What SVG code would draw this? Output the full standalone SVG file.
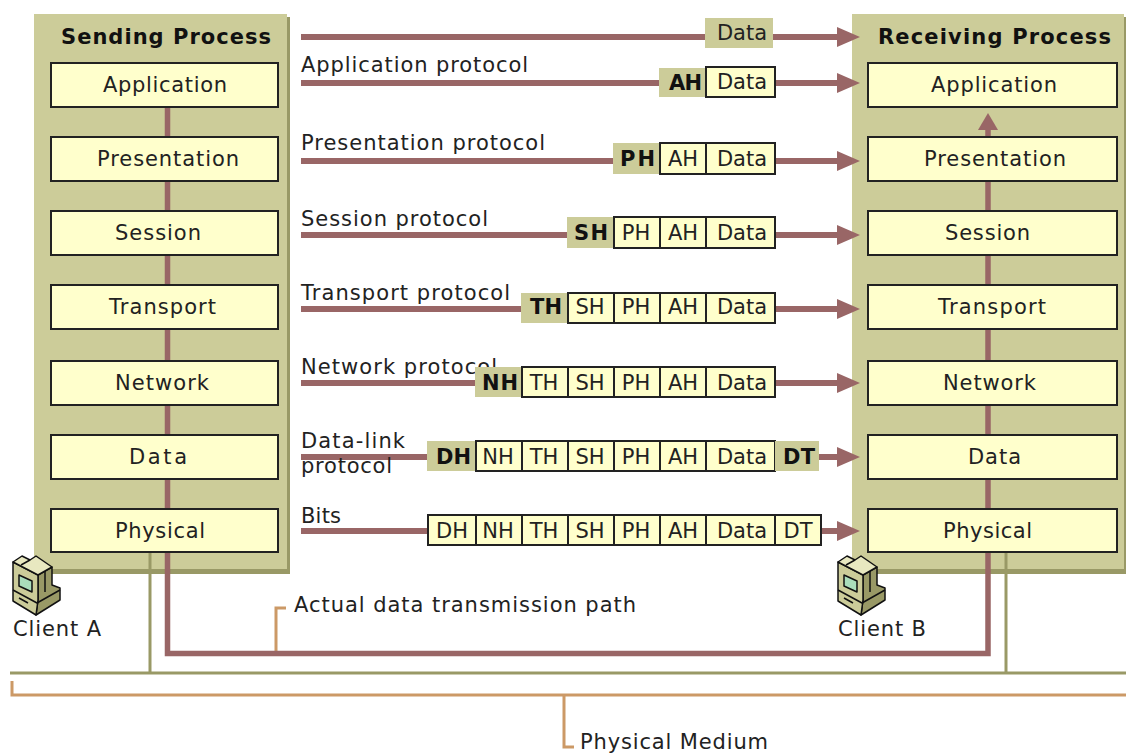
<svg xmlns="http://www.w3.org/2000/svg" width="1126" height="754" viewBox="0 0 1126 754">
<style>
text{font-family:"DejaVu Sans","Liberation Sans",sans-serif;font-size:21px;fill:#222}
.h{font-weight:700;fill:#111}
.b{font-weight:700;fill:#111}
.m{text-anchor:middle}
.panel{fill:#cccc99}
.sh{fill:#999966}
.box{fill:#ffffcc;stroke:#222;stroke-width:2}
.hd{fill:#cccc99}
.flow{fill:none;stroke:#996666;stroke-width:6}
.path{fill:none;stroke:#996666;stroke-width:5.5}
.ol{fill:none;stroke:#999966;stroke-width:3}
.or{fill:none;stroke:#cc9966;stroke-width:3}
.ic{stroke:#111;stroke-width:1.5;stroke-linejoin:round}
</style>
<defs>
<marker id="ah" markerUnits="userSpaceOnUse" markerWidth="23" markerHeight="20" refX="3" refY="10" orient="auto"><path d="M0 0L23 10L0 20Z" fill="#996666"/></marker>
<marker id="au" markerUnits="userSpaceOnUse" markerWidth="17" markerHeight="20" refX="3" refY="10" orient="auto"><path d="M0 0L17 10L0 20Z" fill="#996666"/></marker>
<g id="pc">
<path class="ic" fill="#999966" d="M38 575L52 567V585L60 588V600L36 615L38 600Z"/>
<path class="ic" fill="#cccc99" d="M13 562L38 575V600L36 615L13 601Z"/>
<path class="ic" fill="#e8e8c0" d="M13 562L22 556L30 560L36 556L52 567L38 575Z"/>
<path class="ic" fill="#aaddbb" d="M19 575L32 581V592L19 586Z"/>
<path class="ic" fill="none" d="M13 590L37 603L60 590M19 598L28 603M30 560L21 565M45 571V592"/>
</g>
</defs>

<g id="sending-panel">
<rect class="sh" x="37" y="17" width="253" height="557"/>
<rect class="panel" x="34" y="14" width="253" height="555"/>
<text class="h" x="61" y="44" textLength="210">Sending Process</text>
</g>
<g id="receiving-panel">
<rect class="sh" x="855" y="17" width="271" height="557"/>
<rect class="panel" x="852" y="14" width="272" height="555"/>
<text class="h" x="878" y="44" textLength="233">Receiving Process</text>
</g>

<g id="connectors">
<path class="ol" d="M150 552V673M1006 552V673M10 673H1126"/>
<path class="or" d="M12 681V695H1126M276 653V608H286M564 695V747H574"/>
<path class="path" d="M167.500 107V653.500H988V127" marker-end="url(#au)"/>
<path class="flow" d="M301 37H840" marker-end="url(#ah)"/>
<path class="flow" d="M301 83H840" marker-end="url(#ah)"/>
<path class="flow" d="M301 161H840" marker-end="url(#ah)"/>
<path class="flow" d="M301 235H840" marker-end="url(#ah)"/>
<path class="flow" d="M301 309H840" marker-end="url(#ah)"/>
<path class="flow" d="M301 383H840" marker-end="url(#ah)"/>
<path class="flow" d="M301 457H840" marker-end="url(#ah)"/>
<path class="flow" d="M301 531H840" marker-end="url(#ah)"/>
</g>

<g id="send-application"><rect class="box" x="51" y="63" width="227" height="44"/><text x="103" y="92" textLength="124">Application</text></g>
<g id="send-presentation"><rect class="box" x="51" y="137" width="227" height="44"/><text x="97" y="166" textLength="142">Presentation</text></g>
<g id="send-session"><rect class="box" x="51" y="211" width="227" height="44"/><text x="115" y="240" textLength="86">Session</text></g>
<g id="send-transport"><rect class="box" x="51" y="285" width="227" height="44"/><text x="109" y="314" textLength="107">Transport</text></g>
<g id="send-network"><rect class="box" x="51" y="361" width="227" height="44"/><text x="115" y="390" textLength="94">Network</text></g>
<g id="send-data"><rect class="box" x="51" y="435" width="227" height="44"/><text x="129" y="464" textLength="58">Data</text></g>
<g id="send-physical"><rect class="box" x="51" y="509" width="227" height="43"/><text x="115" y="538" textLength="90">Physical</text></g>

<g id="recv-application"><rect class="box" x="868" y="63" width="249" height="44"/><text x="931" y="92" textLength="126">Application</text></g>
<g id="recv-presentation"><rect class="box" x="868" y="137" width="249" height="44"/><text x="924" y="166" textLength="142">Presentation</text></g>
<g id="recv-session"><rect class="box" x="868" y="211" width="249" height="44"/><text x="945" y="240" textLength="85">Session</text></g>
<g id="recv-transport"><rect class="box" x="868" y="285" width="249" height="44"/><text x="938" y="314" textLength="108">Transport</text></g>
<g id="recv-network"><rect class="box" x="868" y="361" width="249" height="44"/><text x="943" y="390" textLength="93">Network</text></g>
<g id="recv-data"><rect class="box" x="868" y="435" width="249" height="44"/><text x="968" y="464" textLength="53">Data</text></g>
<g id="recv-physical"><rect class="box" x="868" y="509" width="249" height="43"/><text x="943" y="538" textLength="89">Physical</text></g>

<g id="labels">
<text x="301" y="72" textLength="227">Application protocol</text>
<text x="301" y="150" textLength="244">Presentation protocol</text>
<text x="301" y="226" textLength="187">Session protocol</text>
<text x="301" y="300" textLength="209">Transport protocol</text>
<text x="301" y="374" textLength="196">Network protocol</text>
<text x="301" y="448" textLength="104">Data-link</text>
<text x="301" y="473" textLength="91">protocol</text>
<text x="301" y="523" textLength="40">Bits</text>
<text x="294" y="612" textLength="342">Actual data transmission path</text>
<text x="580" y="749" textLength="188">Physical Medium</text>
</g>

<g id="packet-data">
<rect class="hd" x="705" y="18" width="68" height="30"/>
<text x="717" y="40" textLength="50">Data</text>
</g>
<g id="packet-ah">
<rect class="hd" x="659" y="68" width="47" height="29"/>
<rect class="box" x="706" y="67" width="69" height="30"/>
<text class="b" x="669" y="90" textLength="33">AH</text>
<text x="717" y="89" textLength="50">Data</text>
</g>
<g id="packet-ph">
<rect class="hd" x="613" y="143" width="47" height="31"/>
<rect class="box" x="660" y="143" width="46" height="31"/>
<rect class="box" x="706" y="143" width="69" height="31"/>
<text class="b" x="620" y="166" textLength="35">PH</text>
<text class="m" x="683" y="166">AH</text>
<text x="717" y="166" textLength="50">Data</text>
</g>
<g id="packet-sh">
<rect class="hd" x="567" y="217" width="47" height="31"/>
<rect class="box" x="614" y="217" width="46" height="31"/>
<rect class="box" x="660" y="217" width="46" height="31"/>
<rect class="box" x="706" y="217" width="69" height="31"/>
<text class="b" x="574" y="240" textLength="34">SH</text>
<text class="m" x="636" y="240">PH</text>
<text class="m" x="683" y="240">AH</text>
<text x="717" y="240" textLength="50">Data</text>
</g>
<g id="packet-th">
<rect class="hd" x="521" y="293" width="47" height="30"/>
<rect class="box" x="568" y="293" width="46" height="30"/>
<rect class="box" x="614" y="293" width="46" height="30"/>
<rect class="box" x="660" y="293" width="46" height="30"/>
<rect class="box" x="706" y="293" width="69" height="30"/>
<text class="b" x="530" y="314" textLength="32">TH</text>
<text class="m" x="590" y="314">SH</text>
<text class="m" x="636" y="314">PH</text>
<text class="m" x="683" y="314">AH</text>
<text x="717" y="314" textLength="50">Data</text>
</g>
<g id="packet-nh">
<rect class="hd" x="475" y="367" width="47" height="30"/>
<rect class="box" x="522" y="367" width="46" height="30"/>
<rect class="box" x="568" y="367" width="46" height="30"/>
<rect class="box" x="614" y="367" width="46" height="30"/>
<rect class="box" x="660" y="367" width="46" height="30"/>
<rect class="box" x="706" y="367" width="69" height="30"/>
<text class="b" x="482" y="390" textLength="36">NH</text>
<text class="m" x="544" y="390">TH</text>
<text class="m" x="590" y="390">SH</text>
<text class="m" x="636" y="390">PH</text>
<text class="m" x="683" y="390">AH</text>
<text x="717" y="390" textLength="50">Data</text>
</g>
<g id="packet-dh">
<rect class="hd" x="427" y="441" width="49" height="30"/>
<rect class="box" x="476" y="441" width="46" height="30"/>
<rect class="box" x="522" y="441" width="46" height="30"/>
<rect class="box" x="568" y="441" width="46" height="30"/>
<rect class="box" x="614" y="441" width="46" height="30"/>
<rect class="box" x="660" y="441" width="46" height="30"/>
<rect class="box" x="706" y="441" width="69" height="30"/>
<rect class="hd" x="775" y="441" width="44" height="30"/>
<text class="b" x="436" y="464" textLength="35">DH</text>
<text class="m" x="498" y="464">NH</text>
<text class="m" x="544" y="464">TH</text>
<text class="m" x="590" y="464">SH</text>
<text class="m" x="636" y="464">PH</text>
<text class="m" x="683" y="464">AH</text>
<text x="717" y="464" textLength="50">Data</text>
<text class="b" x="783" y="464" textLength="32">DT</text>
</g>
<g id="packet-bits">
<rect class="box" x="428" y="515" width="48" height="30"/>
<rect class="box" x="476" y="515" width="46" height="30"/>
<rect class="box" x="522" y="515" width="46" height="30"/>
<rect class="box" x="568" y="515" width="46" height="30"/>
<rect class="box" x="614" y="515" width="46" height="30"/>
<rect class="box" x="660" y="515" width="46" height="30"/>
<rect class="box" x="706" y="515" width="69" height="30"/>
<rect class="box" x="775" y="515" width="46" height="30"/>
<text class="m" x="452" y="538">DH</text>
<text class="m" x="498" y="538">NH</text>
<text class="m" x="544" y="538">TH</text>
<text class="m" x="590" y="538">SH</text>
<text class="m" x="636" y="538">PH</text>
<text class="m" x="683" y="538">AH</text>
<text x="717" y="538" textLength="50">Data</text>
<text class="m" x="798" y="538">DT</text>
</g>

<g id="client-a">
<use href="#pc"/>
<text x="13" y="636" textLength="88">Client A</text>
</g>
<g id="client-b">
<use href="#pc" x="825"/>
<text x="838" y="636" textLength="88">Client B</text>
</g>
</svg>
